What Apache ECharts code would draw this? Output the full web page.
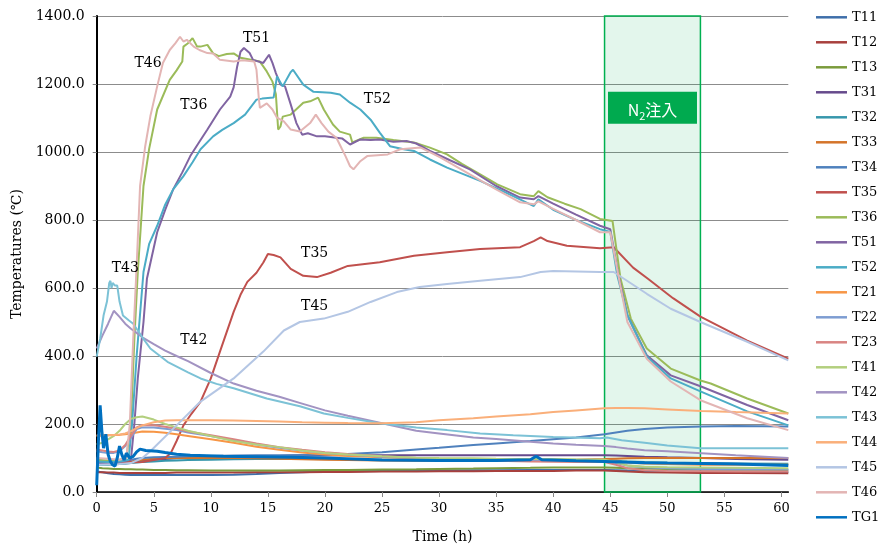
<!DOCTYPE html>
<html>
<head>
<meta charset="utf-8">
<script src="https://cdn.jsdelivr.net/npm/echarts@6/dist/echarts.min.js"></script>
<style>html,body{margin:0;padding:0;background:#fff}#c{width:881px;height:549px}</style>
</head>
<body>
<div id="c"></div>
<script>
// ---------- DATA ----------
const seriesNames = ['T11','T12','T13','T31','T32','T33','T34','T35','T36','T51','T52','T21','T22','T23','T41','T42','T43','T44','T45','T46','TG1'];
const xTickLabels = [0,5,10,15,20,25,30,35,40,45,50,55,60];
const yTickLabels = [0,200,400,600,800,1000,1200,1400];
const n2Start = 44.5, n2End = 52.9;

// shared time grid (h) for the smoother low-temperature series
const timeGrid = [0,0.5,1,1.5,2,2.5,3,3.5,4,5,6,7,8,10,12,14,16,18,20,22,25,28,30,33,35,38,40,42,44.5,45.5,46.5,48,50,53,56,60.6];
const T11 = [60,58,55,53,52,51,50,50,50,50,50,50,50,50,51,53,56,58,60,61,62,63,63,64,64,65,65,65,65,64,63,62,61,60,60,59];
const T12 = [58,58,57,57,56,56,56,56,56,56,56,57,57,57,57,58,58,58,59,59,60,60,61,61,62,62,62,63,63,62,60,58,57,56,56,55];
const T13 = [72,70,69,68,68,67,67,66,66,65,65,64,64,63,63,63,63,64,65,65,66,67,68,69,70,71,72,72,72,71,70,69,68,67,66,65];
const T31 = [85,84,84,85,86,87,88,90,92,95,97,99,100,102,104,105,106,107,107,108,108,108,108,108,108,108,108,108,108,107,106,104,102,100,97,95];
const T32 = [80,80,80,81,82,83,85,87,88,90,92,93,94,95,96,97,97,97,97,96,95,95,94,94,94,94,93,93,93,92,90,88,86,85,84,83];
const T33 = [92,90,88,87,87,88,90,93,95,98,100,100,100,100,100,99,98,96,95,94,93,92,92,92,92,93,94,95,97,98,99,100,100,100,100,100];
const T34 = [95,93,92,91,90,92,95,98,100,102,103,104,105,106,107,108,108,109,110,112,117,125,130,138,143,150,155,160,170,175,180,185,190,193,194,193];
const T21 = [165,166,167,168,168,170,172,175,178,177,174,170,165,155,145,133,124,116,110,106,102,99,97,95,94,93,92,92,92,90,87,84,82,80,80,80];
const T22 = [120,117,115,115,120,135,160,185,190,190,186,182,175,165,152,140,130,122,115,110,104,100,98,96,95,94,93,92,92,85,78,73,70,68,67,66];
const T23 = [125,122,119,118,122,138,165,190,197,196,192,186,178,167,155,143,132,124,117,112,105,100,97,94,92,90,89,88,88,80,70,64,62,61,60,60];
const T41 = [140,145,155,165,180,200,215,220,222,213,200,190,180,165,150,140,132,122,115,110,105,101,100,99,98,97,97,96,95,88,78,74,73,72,71,70];
const T42 = [422,460,495,533,515,495,480,468,455,435,416,400,385,350,319,298,280,260,240,224,202,180,172,160,156,148,143,139,135,132,128,123,120,114,108,100];
const T44 = [167,167,167,168,169,172,179,188,196,205,210,211,211,211,210,209,207,205,204,203,202,205,211,217,222,229,235,240,246,247,247,246,243,238,235,231];

// series with their own time points
const T35_t = [0,2,4,6,6.5,7,7.6,8.3,9.1,10,10.8,12,12.6,13.2,14,14.6,15,15.5,16.1,17,18.1,19.3,20.5,22,24.8,27.8,30.7,33.6,37.1,38.3,38.9,39.5,41.2,44.1,45.3,47,48.3,50.5,52.9,57,60.6];
const T35 = [90,87,88,100,115,150,196,230,266,334,413,530,580,618,645,675,700,697,690,656,636,632,645,665,676,695,705,715,720,738,749,738,724,717,720,660,627,570,516,445,392];

const T36_t = [0,1,2,2.6,3,3.3,3.6,4.1,4.6,5.3,6.4,7,7.5,7.6,8,8.4,8.8,9.1,9.7,10.2,10.7,11.4,12,12.6,13.4,14.3,14.9,15.4,15.7,15.9,16.1,16.3,17,18.1,18.7,19.4,19.9,20.7,21.3,22.2,22.4,23.4,24.5,26,27.8,29.2,30.7,32,33.6,35.1,37.1,38.3,38.7,39.5,41,42.4,44.1,45.2,45.9,46.8,48.2,50.3,52.9,53.8,57,60.6];
const T36 = [95,92,95,100,200,450,647,900,1010,1125,1212,1240,1266,1310,1320,1335,1310,1310,1315,1290,1282,1288,1290,1277,1272,1266,1237,1207,1170,1066,1075,1104,1110,1145,1149,1160,1125,1081,1060,1051,1028,1042,1042,1035,1028,1013,993,965,934,905,876,870,885,867,848,832,803,797,627,510,422,363,328,319,275,231];

const T51_t = [0,1,2,3,3.3,3.6,4.1,4.4,5.3,6,6.7,7.5,8.2,9,9.7,10.8,11.7,12,12.3,12.6,12.9,13.4,13.7,14.6,15.1,15.4,15.7,16.1,16.5,17,17.5,18,18.5,19.3,20,21,21.5,22.2,23.1,24,24.8,26,27.2,28,29.2,31,32.7,35,37.1,38.3,38.7,40,42,44.1,45,45.7,46.5,48.2,50.3,52.9,57,60.6];
const T51 = [85,86,88,95,200,334,500,627,764,830,890,940,988,1030,1066,1125,1163,1190,1250,1295,1306,1291,1271,1262,1286,1262,1232,1198,1193,1140,1085,1051,1055,1046,1046,1042,1040,1022,1037,1035,1037,1030,1032,1025,1003,975,949,900,866,861,870,848,816,783,773,640,520,402,343,311,256,211];

const T52_t = [0,1,2,2.8,3.1,3.5,4.1,4.6,5.3,6,6.7,7.6,8.4,9.1,10.2,11,12,13,14,14.5,15.5,15.8,16.3,17,17.2,18.1,19,20.5,21.3,22.2,23.1,24,24.8,25.7,26.9,27.8,29.2,30.7,33.6,36.5,38.3,38.7,40,42,44.1,45,45.6,46.5,48.2,50.3,52.9,57,60.6];
const T52 = [90,88,90,95,200,400,647,730,783,845,890,929,970,1008,1046,1065,1085,1110,1154,1157,1160,1222,1193,1235,1242,1198,1177,1174,1169,1145,1125,1095,1057,1017,1008,1003,978,954,915,870,841,861,830,800,773,765,640,520,398,334,296,237,196];

const T46_t = [0,1,2,2.6,2.9,3.2,3.5,3.8,4.25,4.7,5.3,5.8,6.4,6.9,7.3,7.6,7.9,8.5,9,9.7,10.2,10.8,12,12.8,13.8,14,14.2,14.3,14.9,15.4,15.8,16.4,17,17.8,18.7,19.2,19.7,20.3,21,21.5,21.8,22.2,22.5,23.1,23.7,25.5,26.6,28.4,30.1,32.7,35,37.1,38.3,38.7,40,42,44.1,45,45.6,46.5,48.2,50.3,52.9,57,60.6];
const T46 = [100,98,95,100,200,450,665,900,1017,1105,1193,1262,1300,1320,1339,1325,1330,1310,1300,1291,1290,1271,1266,1270,1266,1242,1160,1130,1143,1125,1101,1090,1066,1060,1085,1110,1085,1060,1042,1008,988,958,949,973,988,993,1008,1013,984,934,890,852,846,855,833,800,764,764,656,500,392,325,270,217,182];

const T45_t = [0,2,3,4,4.7,7,9.1,12,14.6,16.4,17.8,19.9,22,24,26.3,28.3,30.7,33.6,37.1,38.9,40,44.1,45.3,48.2,50.3,52.9,57,60.6];
const T45 = [80,82,85,100,120,196,266,334,413,475,500,510,530,559,588,603,612,621,632,647,650,647,647,583,539,500,442,387];

const T43_t = [0,0.3,0.6,0.9,1.1,1.2,1.3,1.4,1.6,1.8,2,2.3,2.8,3.2,4,4.7,6.2,8,9.1,10.5,12,14.9,17.8,19.9,22,24.8,28,30.7,33.6,36.5,40,44.1,44.7,46,48.2,50,52.9,56,60.6];
const T43 = [398,450,519,560,615,621,600,615,607,607,560,519,505,495,455,422,383,352,334,318,305,275,252,231,218,202,190,182,172,167,162,158,160,152,144,137,129,129,129];

const TG1_t = [0,0.15,0.3,0.45,0.6,0.8,1,1.2,1.4,1.6,1.8,2,2.2,2.4,2.6,2.9,3.2,3.5,3.8,4.3,5.3,6,7,8.2,11.1,14,17,20,25,30,35,38,38.5,39,42,44.5,46,48,50,53,56,60.6];
const TG1 = [20,150,255,180,129,170,110,90,80,76,100,135,110,94,114,100,105,118,126,122,120,116,111,108,105,104,102,100,94,93,93,95,105,95,92,90,88,86,85,84,82,78];

// ---------- STYLE ----------
const colors = {
  T11:'#3F6FAA', T12:'#A8403D', T13:'#7B9B3C', T31:'#664A8C', T32:'#3797AC', T33:'#D4742A',
  T34:'#4F81BD', T35:'#C0504D', T36:'#9BBB59', T51:'#8064A2', T52:'#4BACC6', T21:'#F79646',
  T22:'#7E9DD2', T23:'#D98482', T41:'#B3CF7E', T42:'#A293C2', T43:'#7CC2D6', T44:'#FAAF7A',
  T45:'#B4C6E4', T46:'#E3B5B4', TG1:'#0070C0'
};
const gridSeries = {T11,T12,T13,T31,T32,T33,T34,T21,T22,T23,T41,T42,T44};
const ownSeries = {
  T35:[T35_t,T35], T36:[T36_t,T36], T51:[T51_t,T51], T52:[T52_t,T52],
  T46:[T46_t,T46], T45:[T45_t,T45], T43:[T43_t,T43], TG1:[TG1_t,TG1]
};
const annotations = [
  ['T46',4.5,1262],['T51',14.0,1334],['T36',8.5,1136],['T52',24.6,1154],
  ['T43',2.5,658],['T42',8.5,445],['T35',19.1,703],['T45',19.1,545]
];
const serif = 'DejaVu Serif';

function pairs(ts, vs){ return ts.map((t,i)=>[t, vs[i]]); }

const series = seriesNames.map(name => {
  const data = gridSeries[name] ? pairs(timeGrid, gridSeries[name]) : pairs(ownSeries[name][0], ownSeries[name][1]);
  const s = {
    name, type:'line', data, showSymbol:false, symbol:'none',
    lineStyle:{ width: name==='TG1' ? 3 : 2, color: colors[name] },
    itemStyle:{ color: colors[name] },
    z: name==='TG1' ? 3 : 2
  };
  const ann = annotations.filter(a => a[0]===name);
  if (ann.length) {
    s.markPoint = {
      silent:true, symbol:'rect', symbolSize:1, itemStyle:{color:'rgba(0,0,0,0)'},
      label:{show:true, position:'inside', color:'#000', fontFamily:serif, fontSize:14, formatter: p => p.name},
      data: ann.map(a => ({name:a[0], coord:[a[1], a[2]]}))
    };
  }
  return s;
});

// N2 injection band + label on a helper series
series.unshift({
  name:'_n2', type:'line', data:[], silent:true, z:1,
  markArea:{
    silent:true,
    itemStyle:{ color:'rgba(0,176,80,0.11)', borderColor:'#00B050', borderWidth:1.5 },
    data:[[{xAxis:n2Start},{xAxis:n2End}]]
  },
  markPoint:{
    silent:true, symbol:'rect', symbolSize:[89,32],
    itemStyle:{ color:'#00AA4F' },
    label:{ show:true, position:'inside', formatter:'{a|N}{b|2}{a|注入}',
      rich:{
        a:{ color:'#fff', fontSize:16, fontFamily:'Noto Sans CJK JP', verticalAlign:'bottom', lineHeight:20 },
        b:{ color:'#fff', fontSize:11, fontFamily:'Noto Sans CJK JP', verticalAlign:'bottom', lineHeight:20, padding:[0,0,-4,0] }
      }
    },
    data:[{ coord:[(n2Start+n2End)/2, 1130] }]
  }
});

const chart = echarts.init(document.getElementById('c'), null, {renderer:'canvas'});
chart.setOption({
  animation:false,
  backgroundColor:'#fff',
  grid:{ left:96.7, right:92.7, top:16, bottom:55, containLabel:false },
  legend:{
    orient:'vertical', left:811, top:4.3,
    data: seriesNames,
    icon:'rect', itemWidth:31, itemHeight:2.5, itemGap:9,
    textStyle:{ fontFamily:serif, fontSize:13, color:'#000', lineHeight:16 },
    selectedMode:false
  },
  xAxis:[{
    type:'value', min:0, max:60.6, interval:5,
    axisLine:{ show:true, lineStyle:{ color:'#868686', width:1 } },
    axisTick:{ show:true, length:5, lineStyle:{ color:'#868686' }, customValues: xTickLabels },
    axisLabel:{ fontFamily:serif, fontSize:13, color:'#000', margin:10, customValues: xTickLabels },
    splitLine:{ show:false },
    name:'Time (h)', nameLocation:'middle', nameGap:38,
    nameTextStyle:{ fontFamily:serif, fontSize:14, color:'#000' }
  },{
    type:'value', min:0, max:60.6, position:'top',
    axisLine:{ show:true, lineStyle:{ color:'#000', width:1.5 } },
    axisTick:{show:false}, axisLabel:{show:false}, splitLine:{show:false}
  }],
  yAxis:[{
    type:'value', min:0, max:1400, interval:200,
    axisLine:{ show:true, lineStyle:{ color:'#868686', width:1 } },
    axisTick:{ show:true, length:4, lineStyle:{ color:'#868686' } },
    axisLabel:{ fontFamily:serif, fontSize:14, color:'#000', margin:12, formatter: v => v.toFixed(1) },
    splitLine:{ show:true, lineStyle:{ color:'#8C8C8C', width:1 } },
    name:'Temperatures (\u2103)', nameLocation:'middle', nameGap:70, nameRotate:90,
    nameTextStyle:{ fontFamily:serif, fontSize:14, color:'#000' }
  },{
    type:'value', min:0, max:1400, position:'right',
    axisLine:{ show:true, lineStyle:{ color:'#000', width:2 } },
    axisTick:{show:false}, axisLabel:{show:false}, splitLine:{show:false}
  }],
  series
});
</script>
</body>
</html>
